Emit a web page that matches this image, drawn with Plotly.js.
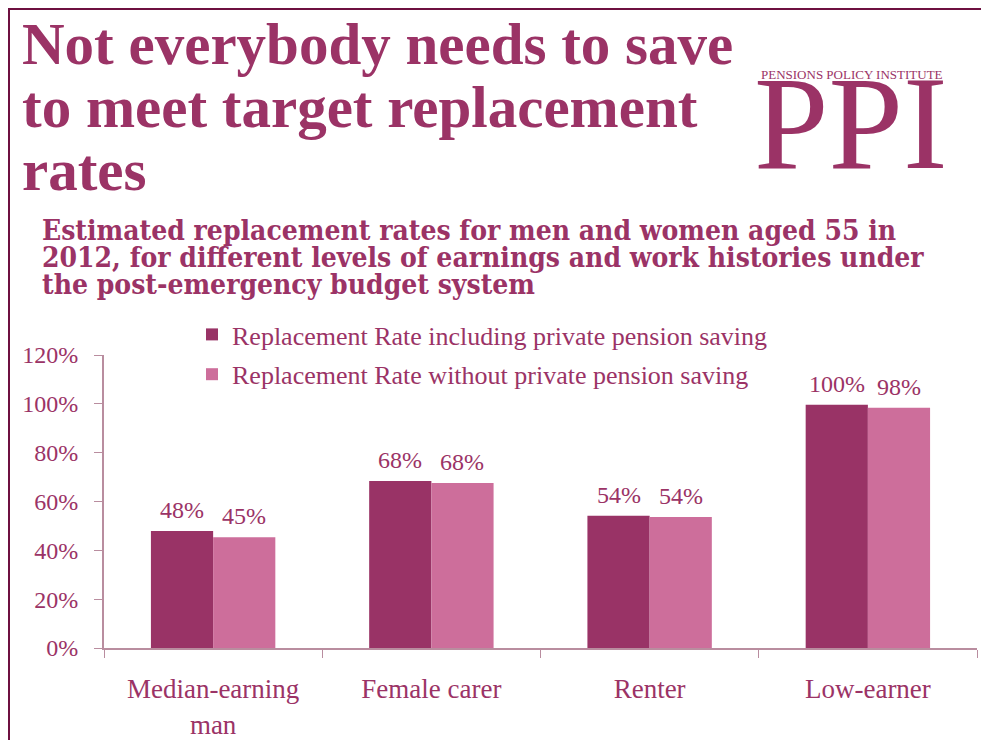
<!DOCTYPE html>
<html>
<head>
<meta charset="utf-8">
<script src="https://cdn.plot.ly/plotly-3.0.1.min.js"></script>
<style>html,body{margin:0;padding:0;background:#fff;}#chart{width:981px;height:740px;}</style>
</head>
<body>
<div id="chart"></div>
<script>
const categories = ["Median-earning<br>man", "Female carer", "Renter", "Low-earner"];
const seriesNames = ["Replacement Rate including private pension saving", "Replacement Rate without private pension saving"];
const withPrivate = [47.9, 68.4, 54.2, 99.6];
const withoutPrivate = [45.4, 67.6, 53.7, 98.4];
const yTickVals = [0, 20, 40, 60, 80, 100, 120];
const yTickText = ["0%", "20%", "40%", "60%", "80%", "100%", "120%"];
const titleLines = ["Not everybody needs to save", "to meet target replacement", "rates"];
const subtitleLines = ["Estimated replacement rates for men and women aged 55 in", "2012, for different levels of earnings and work histories under", "the post-emergency budget system"];
const logoSmall = "PENSIONS POLICY INSTITUTE";
const logoBig = "PPI";

const W = 981, H = 740, L = 104, R = 4, T = 355, B = 92;
const pw = W - L - R, ph = H - T - B;
const px = x => (x - L) / pw;
const py = y => (H - B - y) / ph;

const dark = "#993366", light = "#cd6e9b", txt = "#9b3366", axisCol = "#b98d9f", frame = "#6e1040";
const serif = "Liberation Serif, serif";

const traces = [
  {type: "bar", name: seriesNames[0], x: categories, y: withPrivate, marker: {color: dark},
   legendgroup: "a", hoverinfo: "none"},
  {type: "bar", name: seriesNames[1], x: categories, y: withoutPrivate, marker: {color: light},
   legendgroup: "b", hoverinfo: "none"}
];

const annotations = [];
// value labels above bars, placed through the axes' own scales
[withPrivate, withoutPrivate].forEach((vals, s) => vals.forEach((v, i) => annotations.push({
  xref: "x", yref: "y", x: categories[i], y: v, xshift: s === 0 ? -31 : 31, yshift: 6,
  xanchor: "center", yanchor: "bottom", showarrow: false, text: Math.round(v) + "%",
  font: {family: serif, size: 24, color: txt}
})));
titleLines.forEach((t, i) => annotations.push({
  xref: "paper", yref: "paper", x: px(20), y: py(44 + i * 63), xanchor: "left", yanchor: "middle",
  text: "<b>" + t + "</b>", showarrow: false, font: {family: serif, size: 59, color: txt}
}));
subtitleLines.forEach((t, i) => annotations.push({
  xref: "paper", yref: "paper", x: px(40), y: py(230 + i * 27), xanchor: "left", yanchor: "middle",
  text: "<b>" + t + "</b>", showarrow: false, font: {family: "DejaVu Serif Condensed, DejaVu Serif, serif", size: 28, color: txt}
}));
annotations.push({xref: "paper", yref: "paper", x: px(852), y: py(74), xanchor: "center", yanchor: "middle",
  text: logoSmall, showarrow: false, font: {family: serif, size: 13, color: txt}});
annotations.push({xref: "paper", yref: "paper", x: px(851), y: py(123), xanchor: "center", yanchor: "middle",
  text: logoBig, showarrow: false, font: {family: serif, size: 134, color: txt}});

const shapes = [
  {type: "line", xref: "paper", yref: "paper", x0: px(9), x1: px(9), y0: py(9), y1: py(740), line: {color: frame, width: 2}},
  {type: "line", xref: "paper", yref: "paper", x0: px(8), x1: px(981), y0: py(9), y1: py(9), line: {color: frame, width: 2}}
];

const layout = {
  width: W, height: H,
  margin: {l: L, r: R, t: T, b: B, pad: 0},
  paper_bgcolor: "#fff", plot_bgcolor: "#fff",
  barmode: "group", bargap: 0.43, bargroupgap: 0,
  showlegend: true,
  legend: {x: px(192), y: py(311), xanchor: "left", yanchor: "top", bgcolor: "rgba(0,0,0,0)",
    font: {family: serif, size: 26, color: txt}, traceorder: "grouped", tracegroupgap: 3, itemclick: false},
  xaxis: {type: "category", showline: true, linecolor: axisCol, linewidth: 2, ticks: "outside", tickson: "boundaries",
    ticklen: 8, tickcolor: axisCol, tickwidth: 1, ticklabelstandoff: 16,
    tickfont: {family: serif, size: 27, color: txt}, showgrid: false, zeroline: false, fixedrange: true},
  yaxis: {range: [0, 120], tickvals: yTickVals, ticktext: yTickText, showline: true, linecolor: axisCol, linewidth: 2,
    ticks: "outside", ticklen: 8, tickcolor: axisCol, tickwidth: 1, ticklabelstandoff: 11,
    tickfont: {family: serif, size: 24, color: txt}, showgrid: false, zeroline: false, fixedrange: true},
  annotations: annotations, shapes: shapes,
  font: {family: serif}
};

Plotly.newPlot("chart", traces, layout, {displayModeBar: false, staticPlot: true});
</script>
</body>
</html>
